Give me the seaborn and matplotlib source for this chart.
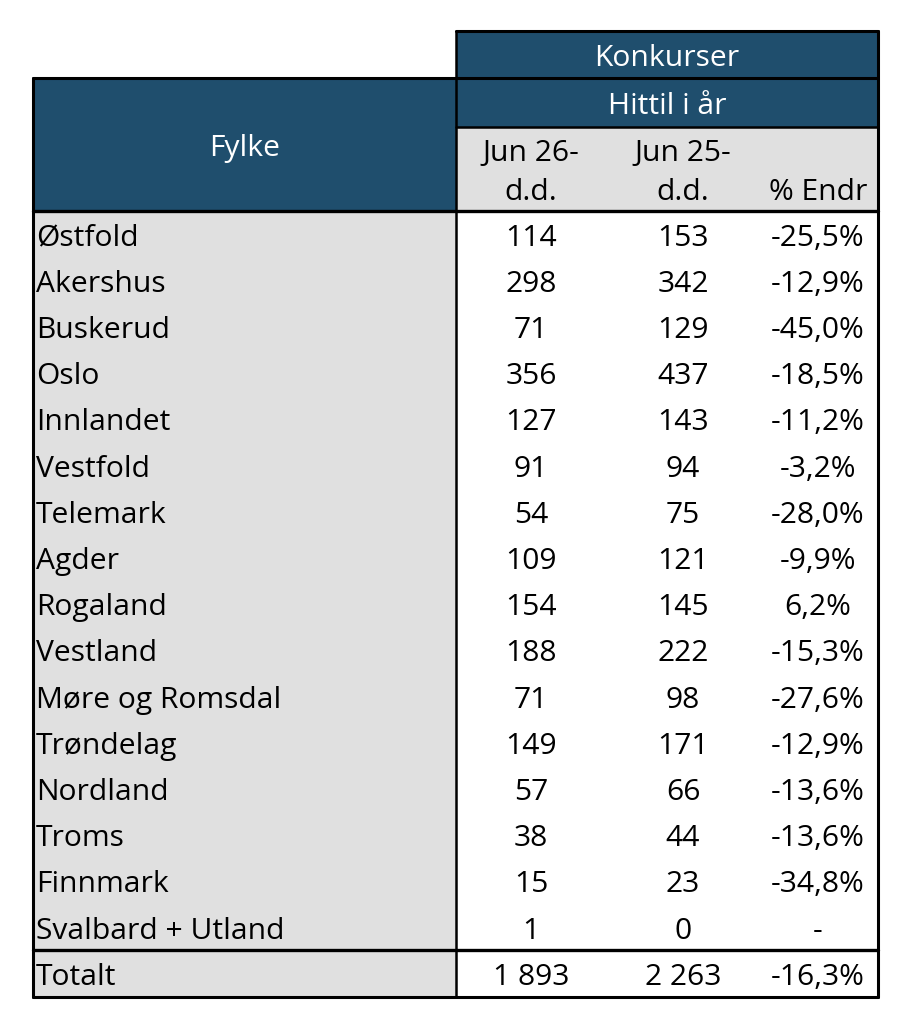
import numpy as np
import pandas as pd
import matplotlib
matplotlib.use('Agg')
import matplotlib.pyplot as plt
import seaborn as sns
from matplotlib.patches import Rectangle


fylker = ['Østfold', 'Akershus', 'Buskerud', 'Oslo', 'Innlandet', 'Vestfold',
          'Telemark', 'Agder', 'Rogaland', 'Vestland', 'Møre og Romsdal',
          'Trøndelag', 'Nordland', 'Troms', 'Finnmark', 'Svalbard + Utland']
jun26 = [114, 298, 71, 356, 127, 91, 54, 109, 154, 188, 71, 149, 57, 38, 15, 1]
jun25 = [153, 342, 129, 437, 143, 94, 75, 121, 145, 222, 98, 171, 66, 44, 23, 0]
pct_endr = [-25.5, -12.9, -45.0, -18.5, -11.2, -3.2, -28.0, -9.9, 6.2, -15.3,
            -27.6, -12.9, -13.6, -13.6, -34.8, None]

header_top = 'Konkurser'
header_mid = 'Hittil i år'
col_labels = ['Jun 26-\nd.d.', 'Jun 25-\nd.d.', '% Endr']
total_label = 'Totalt'

# Colours
dark_blue = '#1F4E6D'
light_gray = '#E0E0E0'


def fmt_int(v):
    # Norsk tusenskille: mellomrom
    return f'{v:,}'.replace(',', ' ')


def fmt_pct(v):
    if v is None:
        return '-'
    return f'{v:.1f}%'.replace('.', ',')


df = pd.DataFrame({'fylke': fylker, 'jun26': jun26, 'jun25': jun25, 'pct': pct_endr})
tot26 = int(df['jun26'].sum())
tot25 = int(df['jun25'].sum())
tot_pct = round((tot26 / tot25 - 1) * 100, 1)

sns.set_theme(style='white')
plt.rcParams['font.family'] = ['Open Sans', 'DejaVu Sans']
plt.rcParams['text.color'] = 'black'

fig = plt.figure(figsize=(9.13, 10.24), dpi=100)
ax = fig.add_axes([0, 0, 1, 1])
ax.set_xlim(0, 913)
ax.set_ylim(1024, 0)
ax.axis('off')

# Layout (pixel units)
x0, x1, x_end = 33, 456, 878
y_top, y_hit, y_sub, y_body = 31, 78, 127, 211
row_h = 46.2
n = len(df)
y_tot = y_body + n * row_h
y_bot = 997

col_x = [531, 683, 818]
fs = 21.6
dy = 4  # text sits a bit low in the cells

# Header backgrounds
ax.add_patch(Rectangle((x1, y_top), x_end - x1, y_sub - y_top, color=dark_blue, lw=0))
ax.add_patch(Rectangle((x0, y_hit), x1 - x0, y_body - y_hit, color=dark_blue, lw=0))
ax.add_patch(Rectangle((x1, y_sub), x_end - x1, y_body - y_sub, color=light_gray, lw=0))
# Left column gray
ax.add_patch(Rectangle((x0, y_body), x1 - x0, y_bot - y_body, color=light_gray, lw=0))

# Header text
ax.text((x1 + x_end) / 2, (y_top + y_hit) / 2 + dy, header_top, color='white',
        ha='center', va='center', fontsize=fs)
ax.text((x1 + x_end) / 2, (y_hit + y_sub) / 2 + dy, header_mid, color='white',
        ha='center', va='center', fontsize=fs)
ax.text((x0 + x1) / 2, (y_hit + y_body) / 2 + dy, 'Fylke', color='white',
        ha='center', va='center', fontsize=fs)

for i, lab in enumerate(col_labels):
    parts = lab.split('\n')
    if len(parts) == 2:
        ax.text(col_x[i], 150 + dy, parts[0], ha='center', va='center', fontsize=fs)
        ax.text(col_x[i], 188 + dy, parts[1], ha='center', va='center', fontsize=fs)
    else:
        ax.text(col_x[i], 188 + dy, parts[0], ha='center', va='center', fontsize=fs)

# Body rows
for r, row in df.iterrows():
    yc = y_body + (r + 0.5) * row_h + dy
    p = None if pd.isna(row['pct']) else row['pct']
    ax.text(x0 + 3, yc, row['fylke'], ha='left', va='center', fontsize=fs)
    ax.text(col_x[0], yc, fmt_int(row['jun26']), ha='center', va='center', fontsize=fs)
    ax.text(col_x[1], yc, fmt_int(row['jun25']), ha='center', va='center', fontsize=fs)
    ax.text(col_x[2], yc, fmt_pct(p), ha='center', va='center', fontsize=fs)

# Total row
yc = (y_tot + y_bot) / 2 + dy
ax.text(x0 + 3, yc, total_label, ha='left', va='center', fontsize=fs)
ax.text(col_x[0], yc, fmt_int(tot26), ha='center', va='center', fontsize=fs)
ax.text(col_x[1], yc, fmt_int(tot25), ha='center', va='center', fontsize=fs)
ax.text(col_x[2], yc, fmt_pct(tot_pct), ha='center', va='center', fontsize=fs)

# Borders
k = 'black'
ax.plot([x1, x_end], [y_top, y_top], color=k, lw=2.2)
ax.plot([x0, x_end], [y_hit, y_hit], color=k, lw=2.2)
ax.plot([x1, x_end], [y_sub, y_sub], color=k, lw=1.8)
ax.plot([x0, x_end], [y_body, y_body], color=k, lw=2.4)
ax.plot([x0, x_end], [y_tot, y_tot], color=k, lw=2.4)
ax.plot([x0, x_end], [y_bot, y_bot], color=k, lw=2.2)
ax.plot([x0, x0], [y_hit, y_bot], color=k, lw=2.2)
ax.plot([x1, x1], [y_top, y_bot], color=k, lw=1.8)
ax.plot([x_end, x_end], [y_top, y_bot], color=k, lw=2.2)

fig.savefig('out.png', dpi=100, facecolor='white')
